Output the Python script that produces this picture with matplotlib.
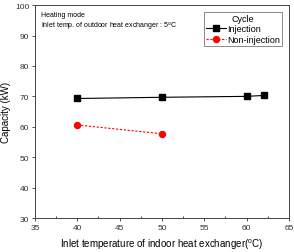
import matplotlib
matplotlib.use("Agg")
import matplotlib.pyplot as plt

plt.rcParams['font.family'] = ['Liberation Sans', 'DejaVu Sans']

# data
inj_x = [40, 50, 60, 62]
inj_y = [69.3, 69.7, 70.0, 70.3]
non_x = [40, 50]
non_y = [60.6, 57.7]

fig = plt.figure(figsize=(2.94, 2.53), dpi=100)
ax = fig.add_axes([0.119, 0.134, 0.864, 0.842])

ax.plot(inj_x, inj_y, color='black', lw=0.8, marker='s', ms=3.8, label='Injection')
ax.plot(non_x, non_y, color='red', lw=0.8, ls='--', dashes=(2, 1.5), marker='o', ms=4.3,
        label='Non-injection')

ax.set_xlim(35, 65)
ax.set_ylim(30, 100)
ax.set_xticks(range(35, 66, 5))
ax.set_yticks(range(30, 101, 10))
ax.set_xticks([37.5, 42.5, 47.5, 52.5, 57.5, 62.5], minor=True)
ax.tick_params(labelsize=6, length=2.5, width=0.6, direction='out', pad=1.5, colors='#333333')
ax.tick_params(which='minor', length=1.5, width=0.5, direction='in')
for s in ax.spines.values():
    s.set_linewidth(0.7)
    s.set_color('#444444')

ax.set_xlabel('Inlet temperature of indoor heat exchanger($^{\\mathregular{o}}$C)', fontsize=7, labelpad=4)
ax.set_ylabel('Capacity (kW)', fontsize=7, labelpad=3)

ax.text(0.025, 0.955, 'Heating mode', transform=ax.transAxes, fontsize=5, va='center')
ax.text(0.025, 0.90, 'Inlet temp. of outdoor heat exchanger : 5$^{\\mathregular{o}}$C',
        transform=ax.transAxes, fontsize=5, va='center')

leg = ax.legend(title='Cycle', loc='upper right', bbox_to_anchor=(0.98, 0.975), fontsize=6.5,
                title_fontsize=6.5, frameon=True, fancybox=False, edgecolor='#555555',
                borderpad=0.2, labelspacing=0.15, handlelength=2.2, handletextpad=0.2,
                borderaxespad=0.2)
leg.get_frame().set_linewidth(0.6)

fig.savefig('out.png', dpi=100)
